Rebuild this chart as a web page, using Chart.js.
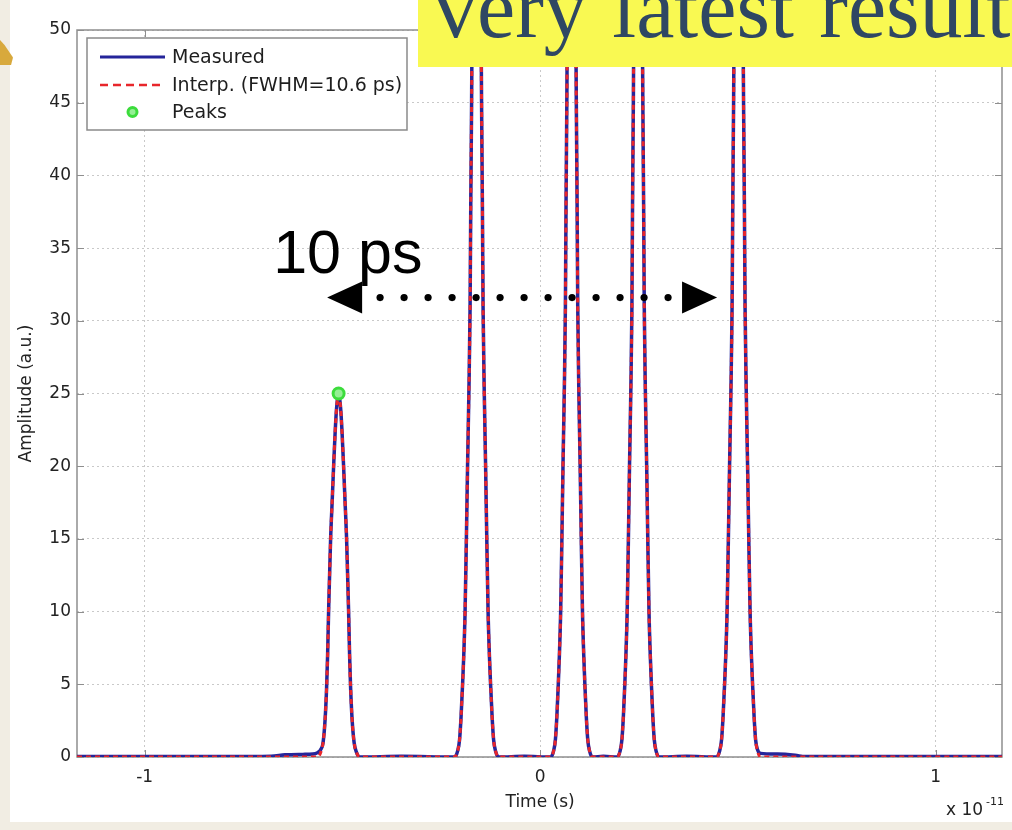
<!DOCTYPE html>
<html>
<head>
<meta charset="utf-8">
<script src="https://cdn.jsdelivr.net/npm/chart.js@4.4.1/dist/chart.umd.min.js"></script>
<style>
  html,body{margin:0;padding:0;}
  body{width:1012px;height:830px;overflow:hidden;position:relative;background:#f1ede3;}
  #wrap{position:absolute;left:10px;top:0;width:1002px;height:822px;background:#ffffff;}
  #gold{position:absolute;left:0;top:40px;width:13px;height:25px;background:#d8a93c;
        clip-path:polygon(0 0,35% 20%,100% 70%,85% 100%,0 100%);}
  #banner{position:absolute;left:418px;top:0;width:594px;height:67px;background:#f9f952;overflow:hidden;}
  #banner span{position:absolute;left:16px;top:-35px;font:86px/86px 'Liberation Serif','Times New Roman',serif;
        color:#2f4763;white-space:nowrap;word-spacing:4px;}
</style>
</head>
<body>
<div id="wrap"><canvas id="c" width="1002" height="822"></canvas></div>
<div id="gold"></div>
<div id="banner"><span>very latest result</span></div>
<script>
// ---- data (time in units of 1e-11 s, amplitude in a.u.) ----
const seriesLabels = ['Measured', 'Interp. (FWHM=10.6 ps)', 'Peaks'];

const measuredTime = [
  -1.171, -0.95, -0.80, -0.68, -0.645, -0.60, -0.575,
  -0.5626, -0.5550, -0.5487, -0.5436, -0.5398, -0.5373, -0.5348, -0.5323, -0.5297, -0.5259, -0.5221, -0.5183, -0.5146,
  -0.5095, -0.5044, -0.5007, -0.4969, -0.4931, -0.4893, -0.4867, -0.4842, -0.4817, -0.4792, -0.4754, -0.4703, -0.4640, -0.4564,
  -0.35,
  -0.2162, -0.2086, -0.2036, -0.1998, -0.1960, -0.1930, -0.1897, -0.1864, -0.1834, -0.1801, -0.1770, -0.1753, -0.1732, -0.1720, -0.1669,
  -0.1606, -0.1543, -0.1492, -0.1480, -0.1459, -0.1442, -0.1411, -0.1378, -0.1348, -0.1315, -0.1282, -0.1252, -0.1214, -0.1176, -0.1126, -0.1050,
  -0.04,
  0.0268, 0.0340, 0.0387, 0.0424, 0.0460, 0.0488, 0.0520, 0.0551, 0.0579, 0.0611, 0.0640, 0.0656, 0.0676, 0.0688, 0.0736,
  0.0796, 0.0856, 0.0904, 0.0916, 0.0936, 0.0952, 0.0981, 0.1013, 0.1041, 0.1072, 0.1104, 0.1132, 0.1168, 0.1205, 0.1252, 0.1324,
  0.16,
  0.1950, 0.2022, 0.2069, 0.2106, 0.2142, 0.2170, 0.2202, 0.2233, 0.2261, 0.2293, 0.2322, 0.2338, 0.2358, 0.2370, 0.2418,
  0.2478, 0.2538, 0.2586, 0.2598, 0.2618, 0.2634, 0.2663, 0.2695, 0.2723, 0.2754, 0.2786, 0.2814, 0.2850, 0.2887, 0.2934, 0.3006,
  0.37,
  0.4463, 0.4539, 0.4589, 0.4627, 0.4665, 0.4695, 0.4728, 0.4761, 0.4791, 0.4824, 0.4855, 0.4872, 0.4893, 0.4905, 0.4956,
  0.5019, 0.5082, 0.5133, 0.5145, 0.5166, 0.5183, 0.5214, 0.5247, 0.5277, 0.5310, 0.5343, 0.5373, 0.5411, 0.5449, 0.5499, 0.5575,
  0.60, 0.645, 0.67, 0.85, 1.168
];
const measuredAmp = [
  0.03, 0.03, 0.03, 0.05, 0.15, 0.18, 0.2,
  0.3, 0.5, 1.0, 2.6, 4.8, 7.0, 10.0, 12.5, 15.0, 17.5, 20.0, 22.3, 24.0,
  24.9, 24.0, 22.3, 20.0, 17.5, 15.0, 12.5, 10.0, 7.0, 4.8, 2.6, 1.0, 0.3, 0,
  0.05,
  0, 0.4, 1.2, 2.8, 5, 7, 10, 15, 20, 25, 31, 38, 45, 50, 57,
  62, 57, 50, 45, 38, 31, 25, 20, 15, 10, 7, 5, 2.8, 1.2, 0.4, 0,
  0.05,
  0, 0.4, 1.2, 2.8, 5, 7, 10, 15, 20, 25, 31, 38, 45, 50, 57,
  62, 57, 50, 45, 38, 31, 25, 20, 15, 10, 7, 5, 2.8, 1.2, 0.4, 0,
  0.05,
  0, 0.4, 1.2, 2.8, 5, 7, 10, 15, 20, 25, 31, 38, 45, 50, 57,
  62, 57, 50, 45, 38, 31, 25, 20, 15, 10, 7, 5, 2.8, 1.2, 0.4, 0,
  0.05,
  0, 0.4, 1.2, 2.8, 5, 7, 10, 15, 20, 25, 31, 38, 45, 50, 57,
  62, 57, 50, 45, 38, 31, 25, 20, 15, 10, 7, 5, 2.8, 1.2, 0.5, 0.25,
  0.2, 0.12, 0.03, 0.03, 0.03
];

const interpTime = [
  -1.171,
  -0.5626, -0.5550, -0.5487, -0.5436, -0.5398, -0.5373, -0.5348, -0.5323, -0.5297, -0.5259, -0.5221, -0.5183, -0.5146,
  -0.5095, -0.5044, -0.5007, -0.4969, -0.4931, -0.4893, -0.4867, -0.4842, -0.4817, -0.4792, -0.4754, -0.4703, -0.4640, -0.4564,
  -0.2162, -0.2086, -0.2036, -0.1998, -0.1960, -0.1930, -0.1897, -0.1864, -0.1834, -0.1801, -0.1770, -0.1753, -0.1732, -0.1720, -0.1669,
  -0.1606, -0.1543, -0.1492, -0.1480, -0.1459, -0.1442, -0.1411, -0.1378, -0.1348, -0.1315, -0.1282, -0.1252, -0.1214, -0.1176, -0.1126, -0.1050,
  0.0268, 0.0340, 0.0387, 0.0424, 0.0460, 0.0488, 0.0520, 0.0551, 0.0579, 0.0611, 0.0640, 0.0656, 0.0676, 0.0688, 0.0736,
  0.0796, 0.0856, 0.0904, 0.0916, 0.0936, 0.0952, 0.0981, 0.1013, 0.1041, 0.1072, 0.1104, 0.1132, 0.1168, 0.1205, 0.1252, 0.1324,
  0.1950, 0.2022, 0.2069, 0.2106, 0.2142, 0.2170, 0.2202, 0.2233, 0.2261, 0.2293, 0.2322, 0.2338, 0.2358, 0.2370, 0.2418,
  0.2478, 0.2538, 0.2586, 0.2598, 0.2618, 0.2634, 0.2663, 0.2695, 0.2723, 0.2754, 0.2786, 0.2814, 0.2850, 0.2887, 0.2934, 0.3006,
  0.4463, 0.4539, 0.4589, 0.4627, 0.4665, 0.4695, 0.4728, 0.4761, 0.4791, 0.4824, 0.4855, 0.4872, 0.4893, 0.4905, 0.4956,
  0.5019, 0.5082, 0.5133, 0.5145, 0.5166, 0.5183, 0.5214, 0.5247, 0.5277, 0.5310, 0.5343, 0.5373, 0.5411, 0.5449, 0.5499, 0.5575,
  1.168
];
const interpAmp = [
  0,
  0, 0.3, 1.0, 2.6, 4.8, 7.0, 10.0, 12.5, 15.0, 17.5, 20.0, 22.3, 24.0,
  24.9, 24.0, 22.3, 20.0, 17.5, 15.0, 12.5, 10.0, 7.0, 4.8, 2.6, 1.0, 0.3, 0,
  0, 0.4, 1.2, 2.8, 5, 7, 10, 15, 20, 25, 31, 38, 45, 50, 57,
  62, 57, 50, 45, 38, 31, 25, 20, 15, 10, 7, 5, 2.8, 1.2, 0.4, 0,
  0, 0.4, 1.2, 2.8, 5, 7, 10, 15, 20, 25, 31, 38, 45, 50, 57,
  62, 57, 50, 45, 38, 31, 25, 20, 15, 10, 7, 5, 2.8, 1.2, 0.4, 0,
  0, 0.4, 1.2, 2.8, 5, 7, 10, 15, 20, 25, 31, 38, 45, 50, 57,
  62, 57, 50, 45, 38, 31, 25, 20, 15, 10, 7, 5, 2.8, 1.2, 0.4, 0,
  0, 0.4, 1.2, 2.8, 5, 7, 10, 15, 20, 25, 31, 38, 45, 50, 57,
  62, 57, 50, 45, 38, 31, 25, 20, 15, 10, 7, 5, 2.8, 1.2, 0.4, 0,
  0
];

const peakTime = [-0.5095];
const peakAmp = [25.0];

const xTicks = [-1, 0, 1];
const yTicks = [0, 5, 10, 15, 20, 25, 30, 35, 40, 45, 50];

// annotation ("10 ps" spacing arrow) in data units
const spanLabel = '10 ps';
const spanStart = -0.5386, spanEnd = 0.4475, spanAmp = 31.6;
const spanLabelTime = -0.675, spanLabelAmp = 33.3;

// ---- chart ----
const pts = (t, a) => t.map((v, i) => ({x: v, y: a[i]}));
const colors = {measured: '#25259a', interp: '#e8262b', peakEdge: '#3cdc3c', peakFill: '#94ef94'};
const tickFont = {family: "'DejaVu Sans', sans-serif", size: 17};

const overlay = {
  id: 'overlay',
  beforeDatasetsDraw(chart) {
    const {ctx, chartArea: a, scales: {x, y}} = chart;
    ctx.save();
    ctx.strokeStyle = '#8e8e8e';
    ctx.lineWidth = 1.5;
    ctx.strokeRect(a.left, a.top, a.right - a.left, a.bottom - a.top);
    ctx.lineWidth = 1;
    ctx.beginPath();
    xTicks.forEach(v => {
      const px = Math.round(x.getPixelForValue(v)) + 0.5;
      ctx.moveTo(px, a.bottom); ctx.lineTo(px, a.bottom - 7);
      ctx.moveTo(px, a.top); ctx.lineTo(px, a.top + 7);
    });
    yTicks.forEach(v => {
      const py = Math.round(y.getPixelForValue(v)) + 0.5;
      ctx.moveTo(a.left, py); ctx.lineTo(a.left + 7, py);
      ctx.moveTo(a.right, py); ctx.lineTo(a.right - 7, py);
    });
    ctx.stroke();
    ctx.restore();
  },
  afterDraw(chart) {
    const {ctx, chartArea: a, scales: {x, y}} = chart;
    ctx.save();
    // legend box
    const lx = a.left + 10, ly = a.top + 8, lw = 320, lh = 92;
    ctx.fillStyle = '#ffffff';
    ctx.fillRect(lx, ly, lw, lh);
    ctx.strokeStyle = '#8a8a8a';
    ctx.lineWidth = 1.5;
    ctx.strokeRect(lx, ly, lw, lh);
    const rows = [ly + 19, ly + 47, ly + 74];
    const sx0 = lx + 13, sx1 = lx + 78, tx = lx + 85;
    ctx.lineWidth = 3;
    ctx.strokeStyle = colors.measured;
    ctx.beginPath(); ctx.moveTo(sx0, rows[0]); ctx.lineTo(sx1, rows[0]); ctx.stroke();
    ctx.lineWidth = 2.5;
    ctx.strokeStyle = colors.interp;
    ctx.setLineDash([8, 5]);
    ctx.beginPath(); ctx.moveTo(sx0, rows[1]); ctx.lineTo(sx1, rows[1]); ctx.stroke();
    ctx.setLineDash([]);
    ctx.beginPath(); ctx.arc((sx0 + sx1) / 2, rows[2], 4.5, 0, Math.PI * 2);
    ctx.fillStyle = colors.peakFill; ctx.fill();
    ctx.lineWidth = 3; ctx.strokeStyle = colors.peakEdge; ctx.stroke();
    ctx.fillStyle = '#1e1e1e';
    ctx.font = "19px 'DejaVu Sans', sans-serif";
    ctx.textBaseline = 'middle';
    ctx.textAlign = 'left';
    seriesLabels.forEach((s, i) => ctx.fillText(s, tx, rows[i] + 1));

    // axis titles
    ctx.font = "17px 'DejaVu Sans', sans-serif";
    ctx.fillStyle = '#222222';
    ctx.textAlign = 'center';
    ctx.fillText('Time (s)', x.getPixelForValue(0), 803);
    ctx.save();
    ctx.translate(17, (a.top + a.bottom) / 2);
    ctx.rotate(-Math.PI / 2);
    ctx.fillText('Amplitude (a.u.)', 0, 0);
    ctx.restore();
    // exponent
    ctx.textAlign = 'left';
    ctx.fillText('x 10', 936, 811);
    ctx.font = "11px 'DejaVu Sans', sans-serif";
    ctx.fillText('-11', 976, 802);

    // annotation
    const xl = x.getPixelForValue(spanStart), xr = x.getPixelForValue(spanEnd);
    const ya = y.getPixelForValue(spanAmp);
    ctx.fillStyle = '#000000';
    ctx.beginPath();
    ctx.moveTo(xl, ya); ctx.lineTo(xl + 35, ya - 16); ctx.lineTo(xl + 35, ya + 16); ctx.closePath(); ctx.fill();
    ctx.beginPath();
    ctx.moveTo(xr, ya); ctx.lineTo(xr - 35, ya - 16); ctx.lineTo(xr - 35, ya + 16); ctx.closePath(); ctx.fill();
    const d0 = xl + 53, d1 = xr - 49, n = 13;
    for (let i = 0; i < n; i++) {
      const dx = d0 + (d1 - d0) * i / (n - 1);
      ctx.beginPath(); ctx.arc(dx, ya, 3.6, 0, Math.PI * 2); ctx.fill();
    }
    ctx.font = "61px 'Liberation Sans', Arial, sans-serif";
    ctx.textBaseline = 'alphabetic';
    ctx.fillText(spanLabel, x.getPixelForValue(spanLabelTime), y.getPixelForValue(spanLabelAmp));
    ctx.restore();
  }
};

new Chart(document.getElementById('c'), {
  type: 'scatter',
  data: {
    datasets: [
      {label: seriesLabels[0], data: pts(measuredTime, measuredAmp), showLine: true,
       borderColor: colors.measured, backgroundColor: colors.measured, borderWidth: 3.5,
       pointRadius: 0, cubicInterpolationMode: 'monotone', order: 3},
      {label: seriesLabels[1], data: pts(interpTime, interpAmp), showLine: true,
       borderColor: colors.interp, backgroundColor: colors.interp, borderWidth: 3, borderDash: [5, 4],
       pointRadius: 0, cubicInterpolationMode: 'monotone', order: 2},
      {label: seriesLabels[2], data: pts(peakTime, peakAmp), showLine: false,
       pointRadius: 5.5, borderWidth: 3, borderColor: colors.peakEdge, backgroundColor: colors.peakFill, order: 1}
    ]
  },
  options: {
    responsive: false,
    animation: false,
    devicePixelRatio: 1,
    layout: {padding: {top: 30, right: 10, left: 0, bottom: 0}},
    plugins: {legend: {display: false}, tooltip: {enabled: false}},
    scales: {
      x: {
        type: 'linear', min: -1.171, max: 1.168,
        afterBuildTicks: s => { s.ticks = xTicks.map(v => ({value: v})); },
        afterFit: s => { s.height = 65; },
        ticks: {padding: 10, font: tickFont, color: '#222222', maxRotation: 0, callback: v => String(v)},
        grid: {color: '#c9c9c9', drawTicks: false, lineWidth: 1},
        border: {display: false, dash: [2, 3]}
      },
      y: {
        type: 'linear', min: 0, max: 50,
        afterBuildTicks: s => { s.ticks = yTicks.map(v => ({value: v})); },
        afterFit: s => { s.width = 67; },
        ticks: {padding: 6, font: tickFont, color: '#222222', callback: v => String(v)},
        grid: {color: '#c9c9c9', drawTicks: false, lineWidth: 1},
        border: {display: false, dash: [2, 3]}
      }
    }
  },
  plugins: [overlay]
});
</script>
</body>
</html>
